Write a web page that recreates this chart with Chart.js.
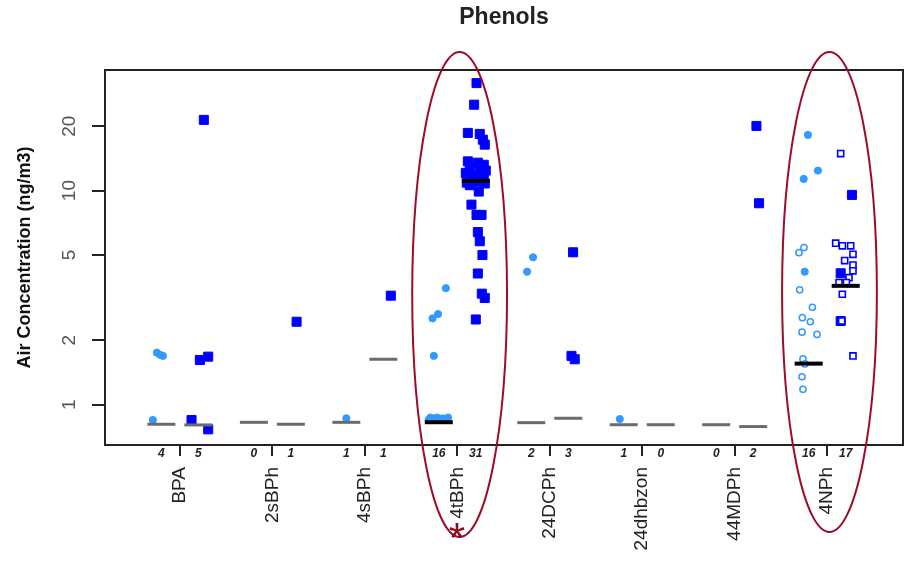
<!DOCTYPE html>
<html><head><meta charset="utf-8">
<script src="https://cdn.jsdelivr.net/npm/chart.js@4/dist/chart.umd.min.js"></script>
<style>html,body{margin:0;padding:0;background:#fff}canvas{display:block}</style>
</head><body>
<canvas id="c" width="912" height="563"></canvas>
<script>
// ---------- DATA ----------
const chartTitle = 'Phenols';
const yTitle = 'Air Concentration (ng/m3)';
const categories = ['BPA','2sBPh','4sBPh','4tBPh','24DCPh','24dhbzon','44MDPh','4NPh'];
const countsLeft  = [4, 0, 1, 16, 2, 1, 0, 16];
const countsRight = [5, 1, 1, 31, 3, 0, 2, 17];
const yTicks = [1, 2, 5, 10, 20];
const highlighted = ['4tBPh', '4NPh'];
const starred = ['4tBPh'];

// left sub-group (light blue circles): values and horizontal jitter (category units)
const leftValues = [
  [1.75, 1.71, 1.69, 0.848],
  [],
  [0.864],
  [3.50, 2.65, 2.53, 1.69, 0.87, 0.86, 0.86, 0.85, 0.87, 0.86, 0.85, 0.86, 0.87, 0.85, 0.86, 0.86],
  [4.88, 4.18],
  [0.857],
  [],
  [18.2, 12.4, 11.34, 5.42, 5.13, 4.18, 3.44, 2.85, 2.55, 2.44, 2.18, 2.13, 1.635, 1.55, 1.35, 1.18]
];
const leftJitter = [
  [-0.049, -0.016, 0.016, -0.092],
  [],
  [0.0],
  [0.076, -0.008, -0.068, -0.054, -0.09, -0.05, 0.03, 0.08, -0.02, 0.06, -0.11, 0.01, 0.10, -0.07, 0.04, -0.03],
  [0.019, -0.045],
  [-0.043],
  [],
  [-0.008, 0.10, -0.054, -0.051, -0.105, -0.043, -0.097, 0.04, -0.068, 0.018, -0.072, 0.09, -0.062, -0.04, -0.072, -0.062]
];
const leftHollow = [[], [], [], [], [], [], [],
  [0, 0, 0, 1, 1, 0, 1, 1, 1, 1, 1, 1, 1, 1, 1, 1]];

// right sub-group (blue squares)
const rightValues = [
  [21.4, 1.676, 1.618, 0.848, 0.767],
  [2.44],
  [3.23],
  [31.8, 25.2, 18.6, 18.4, 17.3, 16.4, 13.7, 13.5, 13.2, 13.0, 12.7, 12.4, 12.1, 11.8, 11.5,
   11.1, 11.0, 10.9, 10.8, 10.6, 9.9, 8.6, 7.7, 7.7, 6.4, 5.8, 5.0, 4.1, 3.3, 3.15, 2.5],
  [5.15, 1.69, 1.63],
  [],
  [20.05, 8.73],
  [14.9, 9.55, 5.68, 5.52, 5.52, 5.04, 4.71, 4.49, 4.22, 4.11, 3.92, 3.72, 3.72, 3.28, 2.46, 2.46, 1.69]
];
const rightJitter = [
  [0.059, 0.106, 0.016, -0.074, 0.106],
  [0.062],
  [0.081],
  [0.008, -0.018, -0.086, 0.043, 0.076, 0.097, -0.086, 0.022, 0.086, -0.065, 0.043, 0.108, -0.108, -0.011, 0.086,
   -0.043, 0.043, -0.097, 0.097, -0.065, 0.032, -0.047, 0.008, 0.062, 0.022, 0.043, 0.072, 0.022, 0.065, 0.097, 0.0],
  [0.052, 0.035, 0.07],
  [],
  [0.035, 0.063],
  [-0.054, 0.068, -0.108, -0.036, 0.054, 0.079, -0.011, 0.079, 0.079, -0.054, 0.036, -0.072, 0.008, -0.036, -0.054, -0.043, 0.079]
];
const rightHollow = [[], [], [], [], [], [], [],
  [1, 0, 1, 1, 1, 1, 1, 1, 1, 0, 1, 1, 1, 1, 0, 1, 1]];

// medians (black = highlighted, grey = others)
const leftMedian  = [0.81, 0.827, 0.827, 0.828, 0.824, 0.806, 0.806, 1.555];
const rightMedian = [0.804, 0.81, 1.63, 11.1, 0.864, 0.806, 0.79, 3.59];
const leftMedianBlack  = [0, 0, 0, 1, 0, 0, 0, 1];
const rightMedianBlack = [0, 0, 0, 1, 0, 0, 0, 1];

// ---------- BUILD ----------
const SUB = 0.2; // sub-group offset from category centre
function collect(values, jitter, hollowArr, side, wantHollow) {
  const out = [];
  values.forEach((arr, i) => arr.forEach((v, k) => {
    const h = (hollowArr[i] && hollowArr[i][k]) ? 1 : 0;
    if (h === wantHollow) out.push({x: i + side * SUB + jitter[i][k], y: v});
  }));
  return out;
}
function medians(meds, flags, side, black) {
  return meds.map((v, i) => ({x: i + side * SUB, y: v, f: flags[i]}))
    .filter(p => p.f === black).map(p => ({x: p.x, y: p.y}));
}
const LB = '#3399ff', DB = '#0000ff';
const FONT = '"Liberation Sans", Arial, Helvetica, sans-serif';

const deco = {
  id: 'deco',
  afterDraw(chart) {
    const {ctx, chartArea: a, scales: {x, y}} = chart;
    ctx.save();
    ctx.strokeStyle = '#222'; ctx.lineWidth = 2;
    ctx.strokeRect(a.left, a.top, a.right - a.left, a.bottom - a.top);

    // y tick labels (rotated)
    ctx.fillStyle = '#555';
    ctx.font = '19px ' + FONT;
    ctx.textAlign = 'center'; ctx.textBaseline = 'middle';
    yTicks.forEach(v => {
      ctx.save(); ctx.translate(a.left - 35, y.getPixelForValue(v)); ctx.rotate(-Math.PI / 2);
      ctx.fillText(String(v), 0, 0); ctx.restore();
    });
    // y title
    ctx.fillStyle = '#111';
    ctx.font = 'bold 18px ' + FONT;
    ctx.save(); ctx.translate(25, (a.top + a.bottom) / 2); ctx.rotate(-Math.PI / 2);
    ctx.fillText(yTitle, 0, 0); ctx.restore();
    // title
    ctx.fillStyle = '#222';
    ctx.font = 'bold 23px ' + FONT;
    ctx.textBaseline = 'alphabetic';
    ctx.fillText(chartTitle, (a.left + a.right) / 2, 24);
    // counts
    ctx.fillStyle = '#222';
    ctx.font = 'italic bold 12px ' + FONT;
    ctx.textBaseline = 'middle';
    categories.forEach((c, i) => {
      ctx.fillText(String(countsLeft[i]), x.getPixelForValue(i - SUB), a.bottom + 9);
      ctx.fillText(String(countsRight[i]), x.getPixelForValue(i + SUB), a.bottom + 9);
    });
    // category names (rotated)
    ctx.fillStyle = '#222';
    ctx.font = '19px ' + FONT;
    ctx.textAlign = 'right';
    categories.forEach((c, i) => {
      ctx.save(); ctx.translate(x.getPixelForValue(i), a.bottom + 22); ctx.rotate(-Math.PI / 2);
      ctx.fillText(c, 0, 0); ctx.restore();
    });
    // highlight ellipses
    ctx.strokeStyle = '#9e0b2b'; ctx.lineWidth = 2;
    highlighted.forEach(c => {
      const i = categories.indexOf(c);
      const cx = x.getPixelForValue(i + 0.025);
      const top = a.top - 18, bot = a.bottom + (starred.includes(c) ? 92 : 87);
      ctx.beginPath();
      ctx.ellipse(cx, (top + bot) / 2, 47.4, (bot - top) / 2, 0, 0, Math.PI * 2);
      ctx.stroke();
    });
    // asterisk
    ctx.fillStyle = '#8b0a1a';
    ctx.font = '42px ' + FONT;
    ctx.textAlign = 'center'; ctx.textBaseline = 'alphabetic';
    starred.forEach(c => {
      const i = categories.indexOf(c);
      const m = ctx.measureText('*');
      const cy = a.bottom + 86;
      const base = cy + (m.actualBoundingBoxAscent - m.actualBoundingBoxDescent) / 2;
      ctx.fillText('*', x.getPixelForValue(i - 0.005), base);
    });
    ctx.restore();
  }
};

new Chart(document.getElementById('c'), {
  type: 'scatter',
  data: {
    datasets: [
      {data: collect(leftValues, leftJitter, leftHollow, -1, 0), pointStyle: 'circle', pointRadius: 3.6,
       backgroundColor: LB, borderColor: LB, borderWidth: 1, order: 3},
      {data: collect(leftValues, leftJitter, leftHollow, -1, 1), pointStyle: 'circle', pointRadius: 3.1,
       backgroundColor: '#fff', borderColor: LB, borderWidth: 1.5, order: 3},
      {data: collect(rightValues, rightJitter, rightHollow, 1, 0), pointStyle: 'rect', pointRadius: 6.4,
       backgroundColor: DB, borderColor: DB, borderWidth: 1, order: 3},
      {data: collect(rightValues, rightJitter, rightHollow, 1, 1), pointStyle: 'rect', pointRadius: 4.3,
       backgroundColor: '#fff', borderColor: DB, borderWidth: 1.6, order: 2},
      {data: medians(leftMedian, leftMedianBlack, -1, 0).concat(medians(rightMedian, rightMedianBlack, 1, 0)),
       pointStyle: 'line', pointRadius: 14, borderColor: '#6b6b6b', borderWidth: 3, order: 1},
      {data: medians(leftMedian, leftMedianBlack, -1, 1).concat(medians(rightMedian, rightMedianBlack, 1, 1)),
       pointStyle: 'line', pointRadius: 14, borderColor: '#000', borderWidth: 4, order: 0}
    ]
  },
  options: {
    responsive: false, animation: false, events: [], devicePixelRatio: 1,
    layout: {autoPadding: false, padding: {top: 70, right: 9, bottom: 107, left: 0}},
    plugins: {legend: {display: false}, tooltip: {enabled: false}, title: {display: false}},
    scales: {
      x: {type: 'linear', min: -0.81, max: 7.82, bounds: 'data',
          afterBuildTicks: s => { s.ticks = categories.map((_, i) => ({value: i})); },
          ticks: {display: false},
          grid: {drawOnChartArea: false, drawTicks: true, tickLength: 11, color: '#222', lineWidth: 2},
          border: {display: true, color: '#222', width: 2},
          afterFit: s => { s.height = 11; }},
      y: {type: 'logarithmic', min: 0.648, max: 36.6, bounds: 'data',
          afterBuildTicks: s => { s.ticks = yTicks.map(v => ({value: v})); },
          ticks: {display: false},
          grid: {drawOnChartArea: false, drawTicks: true, tickLength: 13, color: '#222', lineWidth: 2},
          border: {display: true, color: '#222', width: 2},
          afterFit: s => { s.width = 105; }}
    }
  },
  plugins: [deco]
});
</script>
</body></html>
